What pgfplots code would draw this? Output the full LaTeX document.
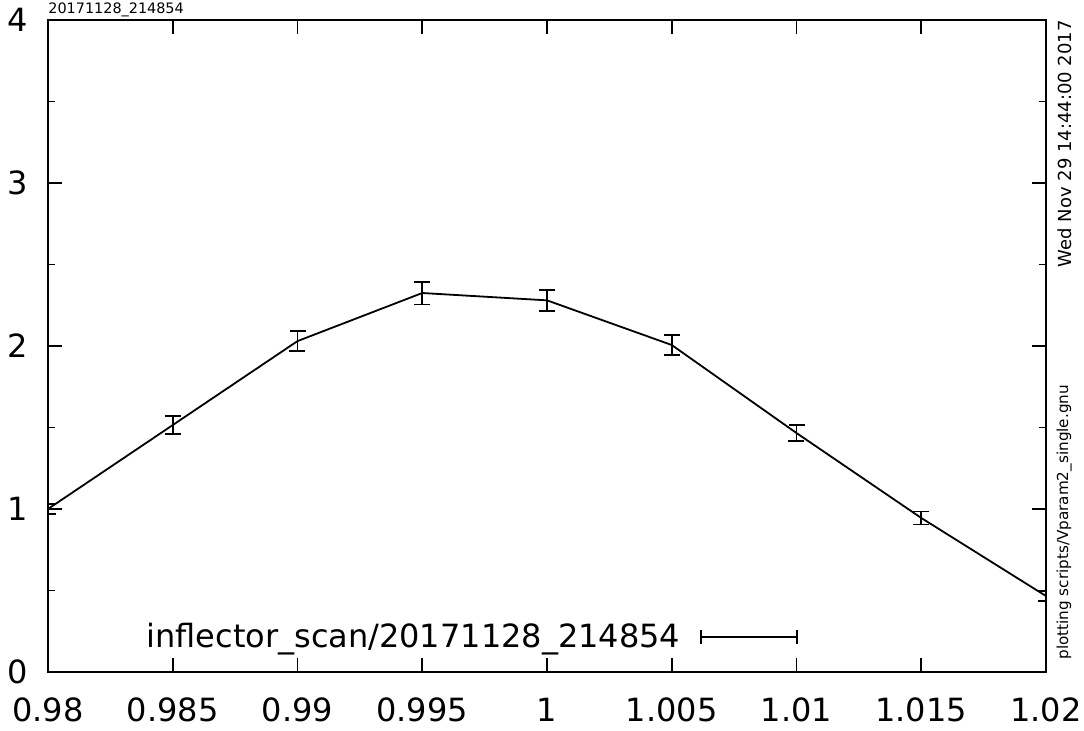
\documentclass[border=0pt]{standalone}
\usepackage{fontspec}
\setmainfont{DejaVu Sans}
\usepackage{pgfplots}
\pgfplotsset{compat=1.18}

\begin{document}
\begin{tikzpicture}
\begin{axis}[
  name=main,
  at={(0,0)}, anchor=south west,
  scale only axis,
  width=499pt, height=326pt,
  xmin=0.98, xmax=1.02,
  ymin=0, ymax=4,
  xtick={0.98,0.985,...,1.021},
  ytick={0,1,2,3,4},
  minor ytick={0.5,1.5,2.5,3.5},
  xticklabels={0.98,0.985,0.99,0.995,1,1.005,1.01,1.015,1.02},
  yticklabels={0,1,2,3,4},
  tick align=inside,
  major tick length=7pt,
  minor tick length=3.5pt,
  every tick/.style={black, line width=0.9pt},
  axis line style={line width=1.2pt},
  tick label style={font=\fontsize{16}{18}\selectfont},
  xticklabel style={yshift=-9.5pt},
  yticklabel style={xshift=-6.5pt},
  clip=true,
  legend style={draw=none, fill=none, at={(rel axis cs:0.752,0.054)}, anchor=east,
    font=\fontsize{16}{18}\selectfont, inner sep=0pt},
  legend plot pos=right,
  legend image code/.code={
    \draw[line width=0.9pt] (0pt,0pt) -- (48pt,0pt);
    \draw[line width=0.9pt] (0pt,-3.5pt) -- (0pt,3.5pt);
    \draw[line width=0.9pt] (48pt,-3.5pt) -- (48pt,3.5pt);
  },
]
\addplot[black, line width=0.9pt, mark=none,
  error bars/.cd, y dir=both, y explicit,
  error bar style={line width=0.9pt},
  error mark options={rotate=90, mark size=4pt, line width=0.9pt}]
  coordinates {
  (0.980,1.000) +- (0,0.030)
  (0.985,1.515) +- (0,0.055)
  (0.990,2.030) +- (0,0.060)
  (0.995,2.325) +- (0,0.070)
  (1.000,2.280) +- (0,0.065)
  (1.005,2.006) +- (0,0.060)
  (1.010,1.466) +- (0,0.050)
  (1.015,0.945) +- (0,0.040)
  (1.020,0.466) +- (0,0.030)
};
\addlegendentry{inflector\_scan/20171128\_214854\rule{8pt}{0pt}}
\end{axis}
\node[anchor=south west, inner sep=0pt, font=\fontsize{7.2}{8}\selectfont]
  at (0pt,327.5pt) {20171128\_214854};
\node[anchor=south east, rotate=90, inner sep=0pt, font=\fontsize{9}{10}\selectfont]
  at (512pt,326pt) {Wed Nov 29 14:44:00 2017};
\node[anchor=south west, rotate=90, inner sep=0pt, font=\fontsize{7.6}{9}\selectfont]
  at (512pt,6pt) {plotting scripts/Vparam2\_single.gnu};
\pgfresetboundingbox
\path[use as bounding box] (-24pt,-29.5pt) rectangle (518pt,336pt);
\end{tikzpicture}
\end{document}
